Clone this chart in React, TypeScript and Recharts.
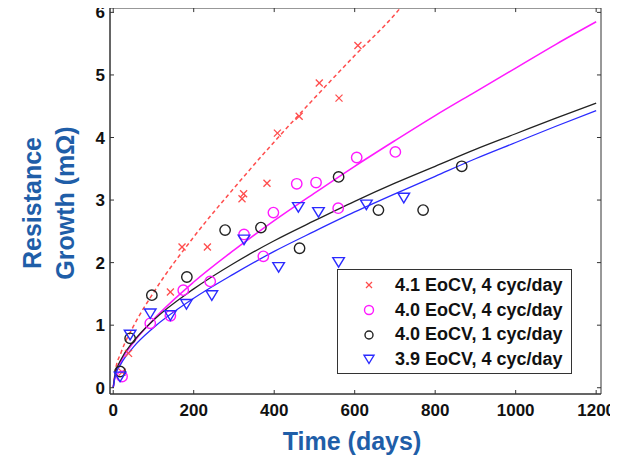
import React from "react";
import { ComposedChart, Line, Scatter, XAxis, YAxis, Legend, Label, ReferenceArea, ReferenceLine } from "recharts";

// measured points, days vs resistance growth (mOhm)
const redDays = [22, 38, 142, 171, 234, 320, 324, 382, 408, 462, 512, 561, 608];
const redVals = [0.25, 0.55, 1.53, 2.25, 2.25, 3.02, 3.1, 3.27, 4.07, 4.34, 4.87, 4.63, 5.47];

const magentaDays = [22, 92, 142, 174, 241, 325, 373, 398, 456, 504, 559, 605, 701];
const magentaVals = [0.18, 1.03, 1.15, 1.56, 1.7, 2.45, 2.1, 2.8, 3.26, 3.28, 2.87, 3.68, 3.77];

const blackDays = [17, 42, 96, 183, 278, 367, 463, 560, 659, 770, 866];
const blackVals = [0.26, 0.79, 1.48, 1.77, 2.52, 2.56, 2.23, 3.37, 2.84, 2.84, 3.54];

const blueDays = [17, 42, 92, 142, 182, 245, 325, 411, 460, 510, 560, 629, 722];
const blueVals = [0.18, 0.85, 1.19, 1.16, 1.34, 1.48, 2.37, 1.93, 2.89, 2.81, 2.01, 2.93, 3.04];

// fitted curves
const fitDays = [0, 5, 20, 50, 100, 200, 300, 400, 500, 600, 700, 800, 900, 1000, 1100, 1200];
const magentaFitVals = [0, 0.2, 0.43, 0.72, 1.09, 1.69, 2.2, 2.67, 3.11, 3.54, 3.95, 4.35, 4.73, 5.11, 5.49, 5.85];
const blackFitVals = [0, 0.22, 0.46, 0.74, 1.08, 1.58, 1.99, 2.35, 2.67, 2.98, 3.27, 3.54, 3.81, 4.06, 4.31, 4.55];
const blueFitVals = [0, 0.19, 0.39, 0.65, 0.96, 1.43, 1.82, 2.18, 2.5, 2.81, 3.1, 3.38, 3.66, 3.92, 4.18, 4.43];

const redFitDays = [0, 5, 20, 50, 100, 200, 300, 400, 500, 600, 700, 712];
const redFitVals = [0, 0.26, 0.57, 0.98, 1.52, 2.41, 3.19, 3.93, 4.63, 5.31, 5.97, 6.06];

const seriesNames = ["4.1 EoCV, 4 cyc/day", "4.0 EoCV, 4 cyc/day", "4.0 EoCV, 1 cyc/day", "3.9 EoCV, 4 cyc/day"];
const xTicks = [0, 200, 400, 600, 800, 1000, 1200];
const yTicks = [0, 1, 2, 3, 4, 5, 6];

const X_DOMAIN = [-8, 1212];
const Y_DOMAIN = [-0.1, 6.07];

const zip = (days: number[], vals: number[]) => days.map((d, i) => ({ d, v: vals[i] }));

const RED = "#ff4d4d";
const MAGENTA = "#ff1aff";
const BLACK = "#222222";
const BLUE = "#2b2bff";
const TITLE_BLUE = "#1f5ea8";
const AXIS = "#333";
const FONT = "'Liberation Sans', Arial, sans-serif";

function Cross({ cx, cy, color = RED, s = 3.5 }: any) {
  return (
    <g stroke={color} strokeWidth={1.3}>
      <line x1={cx - s} y1={cy - s} x2={cx + s} y2={cy + s} />
      <line x1={cx - s} y1={cy + s} x2={cx + s} y2={cy - s} />
    </g>
  );
}

function Ring({ cx, cy, color, r = 5.2 }: any) {
  return <circle cx={cx} cy={cy} r={r} fill="none" stroke={color} strokeWidth={1.4} />;
}

function TriDown({ cx, cy, color = BLUE, s = 5.8 }: any) {
  const pts = `${cx - s},${cy - s * 0.75} ${cx + s},${cy - s * 0.75} ${cx},${cy + s * 0.9}`;
  return <polygon points={pts} fill="none" stroke={color} strokeWidth={1.4} />;
}

const markerFor = [
  (p: any) => <Cross {...p} s={3} />,
  (p: any) => <Ring {...p} color={MAGENTA} r={4.5} />,
  (p: any) => <Ring {...p} color={BLACK} r={4} />,
  (p: any) => <TriDown {...p} s={5} />,
];

function LegendBox() {
  return (
    <div
      style={{
        width: 235,
        height: 105,
        boxSizing: "border-box",
        border: "1.5px solid #333",
        background: "#fff",
        paddingTop: 3,
        fontFamily: FONT,
        fontSize: 18,
        fontWeight: 700,
        color: "#111",
      }}
    >
      {seriesNames.map((name, i) => (
        <div key={name} style={{ display: "flex", alignItems: "center", height: 24.7 }}>
          <svg width={57} height={20} style={{ flexShrink: 0 }}>
            {markerFor[i]({ cx: 31, cy: 10 })}
          </svg>
          <span style={{ whiteSpace: "nowrap" }}>{name}</span>
        </div>
      ))}
    </div>
  );
}

function YTitle() {
  const style = { fontFamily: FONT, fontSize: 25, fontWeight: 700, fill: TITLE_BLUE };
  return (
    <g>
      <text x={32} y={203} transform="rotate(-90 32 203)" textAnchor="middle" dominantBaseline="central" style={style}>
        Resistance
      </text>
      <text x={65} y={203} transform="rotate(-90 65 203)" textAnchor="middle" dominantBaseline="central" style={style}>
        Growth (mΩ)
      </text>
    </g>
  );
}

function XTitle() {
  return (
    <text x={352} y={441} textAnchor="middle" dominantBaseline="central"
      style={{ fontFamily: FONT, fontSize: 25, fontWeight: 700, fill: TITLE_BLUE }}>
      Time (days)
    </text>
  );
}

export default function App() {
  const tickStyle = { fontFamily: FONT, fontSize: 17, fontWeight: 700, fill: "#111" };
  return (
    <div style={{ marginLeft: -8, marginTop: -8, width: 618, height: 457, background: "#fff" }}>
      <ComposedChart width={618} height={457} margin={{ top: 8, right: 17, left: 0, bottom: 0 }}>
        <XAxis
          dataKey="d"
          type="number"
          domain={X_DOMAIN}
          ticks={xTicks}
          interval={0}
          height={63}
          tickSize={-4}
          tickMargin={14}
          stroke={AXIS}
          tick={tickStyle}
          allowDataOverflow
        >
          <Label content={XTitle} />
        </XAxis>
        <YAxis
          dataKey="v"
          type="number"
          domain={Y_DOMAIN}
          ticks={yTicks}
          interval={0}
          width={110}
          tickSize={-4}
          tickMargin={9}
          stroke={AXIS}
          tick={tickStyle}
          allowDataOverflow
        >
          <Label content={YTitle} />
        </YAxis>

        {/* box frame with inward ticks on top and right */}
        <ReferenceArea x1={X_DOMAIN[0]} x2={X_DOMAIN[1]} y1={Y_DOMAIN[0]} y2={Y_DOMAIN[1]}
          fill="none" stroke={AXIS} strokeWidth={1} />
        {xTicks.map((t) => (
          <ReferenceLine key={"tx" + t} segment={[{ x: t, y: Y_DOMAIN[1] }, { x: t, y: Y_DOMAIN[1] - 0.065 }]} stroke={AXIS} />
        ))}
        {yTicks.map((t) => (
          <ReferenceLine key={"ty" + t} segment={[{ x: X_DOMAIN[1], y: t }, { x: X_DOMAIN[1] - 10, y: t }]} stroke={AXIS} />
        ))}

        {/* fitted curves */}
        <Line data={zip(redFitDays, redFitVals)} dataKey="v" type="monotone" stroke={RED} strokeWidth={1.5}
          strokeDasharray="4 3" dot={false} isAnimationActive={false} legendType="none" />
        <Line data={zip(fitDays, magentaFitVals)} dataKey="v" type="monotone" stroke={MAGENTA} strokeWidth={1.5}
          dot={false} isAnimationActive={false} legendType="none" />
        <Line data={zip(fitDays, blackFitVals)} dataKey="v" type="monotone" stroke={BLACK} strokeWidth={1.3}
          dot={false} isAnimationActive={false} legendType="none" />
        <Line data={zip(fitDays, blueFitVals)} dataKey="v" type="monotone" stroke={BLUE} strokeWidth={1.3}
          dot={false} isAnimationActive={false} legendType="none" />

        {/* measured points */}
        <Scatter name={seriesNames[0]} data={zip(redDays, redVals)} shape={(p: any) => <Cross cx={p.cx} cy={p.cy} />} isAnimationActive={false} />
        <Scatter name={seriesNames[1]} data={zip(magentaDays, magentaVals)} shape={(p: any) => <Ring cx={p.cx} cy={p.cy} color={MAGENTA} />} isAnimationActive={false} />
        <Scatter name={seriesNames[2]} data={zip(blackDays, blackVals)} shape={(p: any) => <Ring cx={p.cx} cy={p.cy} color={BLACK} />} isAnimationActive={false} />
        <Scatter name={seriesNames[3]} data={zip(blueDays, blueVals)} shape={(p: any) => <TriDown cx={p.cx} cy={p.cy} />} isAnimationActive={false} />

        <Legend
          layout="vertical"
          align="center"
          verticalAlign="middle"
          content={LegendBox}
          wrapperStyle={{ left: 337, top: 269, width: 235, height: 105 }}
        />
      </ComposedChart>
    </div>
  );
}
